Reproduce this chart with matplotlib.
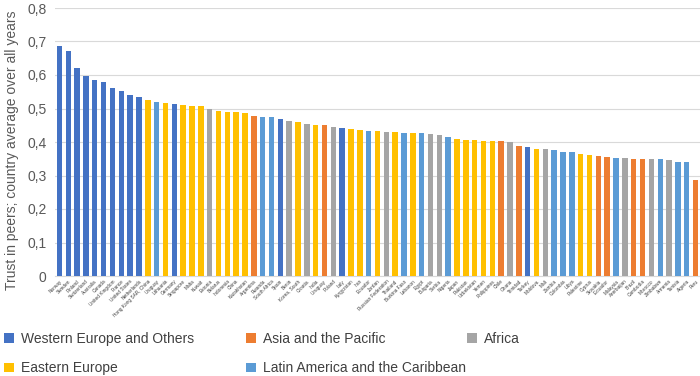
import matplotlib
matplotlib.use('Agg')
import matplotlib.pyplot as plt
from matplotlib.patches import Patch
import numpy as np

plt.rcParams['font.family'] = ['Liberation Sans', 'DejaVu Sans']

countries = [
    'Norway', 'Sweden', 'Finland', 'Switzerland', 'Australia', 'Canada',
    'United Kingdom', 'France', 'United States', 'Netherlands',
    'Hong Kong SAR, China', 'Uruguay', 'Lithuania', 'Germany', 'Singapore',
    'Malta', 'Kuwait', 'Estonia', 'Belarus', 'Indonesia', 'China',
    'Kazakhstan', 'Argentina', 'Rwanda', 'South Africa', 'Spain', 'Benin',
    'Korea, South', 'Croatia', 'India', 'Uruguay ', 'Poland', 'Italy',
    'Kyrgyzstan', 'Iran', 'Ecuador', 'Jordan', 'Russian Federation',
    'Thailand', 'Burkina Faso', 'Lebanon', 'Egypt', 'Bulgaria', 'Serbia',
    'Nigeria', 'Japan', 'Pakistan', 'Uzbekistan', 'Yemen', 'Philippines',
    'Chile', 'Ghana', 'Trinidad', 'Turkey', 'Moldova', 'Mali', 'Zambia',
    'Colombia', 'Libya', 'Palestine', 'Cyprus', 'Slovakia', 'Ecuador ',
    'Malaysia', 'Azerbaijan', 'Brazil', 'Cambodia', 'Morocco', 'Zimbabwe',
    'Armenia', 'Tunisia', 'Algeria', 'Peru',
]

values = [
    0.688, 0.673, 0.622, 0.596, 0.586, 0.579, 0.562, 0.553, 0.541, 0.533,
    0.525, 0.518, 0.516, 0.512, 0.510, 0.508, 0.506, 0.498, 0.493, 0.490,
    0.490, 0.487, 0.478, 0.476, 0.474, 0.468, 0.462, 0.460, 0.455, 0.451,
    0.450, 0.445, 0.442, 0.438, 0.435, 0.432, 0.432, 0.430, 0.430, 0.427,
    0.427, 0.426, 0.425, 0.420, 0.415, 0.408, 0.407, 0.407, 0.404, 0.404,
    0.403, 0.400, 0.388, 0.386, 0.380, 0.379, 0.377, 0.371, 0.369, 0.364,
    0.362, 0.358, 0.354, 0.353, 0.352, 0.350, 0.350, 0.350, 0.349, 0.347,
    0.340, 0.340, 0.287,
]

# W = Western Europe and Others, A = Asia and the Pacific, F = Africa,
# E = Eastern Europe, L = Latin America and the Caribbean
groups = [
    'W', 'W', 'W', 'W', 'W', 'W', 'W', 'W', 'W', 'W',
    'E', 'L', 'E', 'W', 'E', 'E', 'E', 'F', 'E', 'E',
    'E', 'E', 'A', 'L', 'L', 'W', 'F', 'E', 'F', 'E',
    'A', 'F', 'W', 'E', 'E', 'L', 'E', 'F', 'E', 'L',
    'E', 'L', 'F', 'F', 'L', 'E', 'E', 'E', 'E', 'E',
    'A', 'F', 'A', 'W', 'E', 'F', 'L', 'L', 'L', 'E',
    'E', 'A', 'A', 'L', 'F', 'A', 'A', 'F', 'L', 'F',
    'L', 'L', 'A',
]

group_names = {
    'W': 'Western Europe and Others',
    'A': 'Asia and the Pacific',
    'F': 'Africa',
    'E': 'Eastern Europe',
    'L': 'Latin America and the Caribbean',
}
group_colors = {
    'W': '#4472C4',
    'A': '#ED7D31',
    'F': '#A5A5A5',
    'E': '#FFC000',
    'L': '#5B9BD5',
}

fig = plt.figure(figsize=(7, 3.76), dpi=100)
ax = fig.add_axes([55 / 700, 1 - 276 / 376, 645 / 700, 268 / 376])

x = np.arange(len(values))
ax.bar(x, values, width=0.62, color=[group_colors[g] for g in groups], zorder=3)

ax.set_xlim(-0.5, len(values) - 0.5)
ax.set_ylim(0, 0.8)
yt = np.arange(0, 0.81, 0.1)
ax.set_yticks(yt)
ax.set_yticklabels(['0'] + [f'{v:.1f}'.replace('.', ',') for v in yt[1:]],
                   fontsize=10, color='#595959')
ax.grid(axis='y', color='#D9D9D9', linewidth=0.8, zorder=0)
for s in ['top', 'right', 'left']:
    ax.spines[s].set_visible(False)
ax.spines['bottom'].set_color('#D9D9D9')
ax.tick_params(axis='y', length=0, pad=6)
ax.tick_params(axis='x', length=0, pad=2)
ax.set_xticks(x)
ax.set_xticklabels(countries, rotation=45, ha='right', rotation_mode='anchor',
                   fontsize=3.4, color='#404040')

fig.text(12 / 700, 1 - 150 / 376, 'Trust in peers; country average over all years',
         rotation=90, ha='center', va='center', fontsize=10, color='#595959')

def handles(keys):
    return [Patch(facecolor=group_colors[k], label=group_names[k]) for k in keys]

leg_kw = dict(loc='upper left', frameon=False, fontsize=10, handlelength=0.7,
              handleheight=0.7, handletextpad=0.5, labelspacing=1.1,
              borderaxespad=0, borderpad=0, labelcolor='#404040')
fig.legend(handles=handles(['W', 'E']), bbox_to_anchor=(4 / 700, 1 - 332 / 376), **leg_kw)
fig.legend(handles=handles(['A', 'L']), bbox_to_anchor=(246 / 700, 1 - 332 / 376), **leg_kw)
fig.legend(handles=handles(['F']), bbox_to_anchor=(467 / 700, 1 - 332 / 376), **leg_kw)

fig.savefig('out.png', dpi=100)
